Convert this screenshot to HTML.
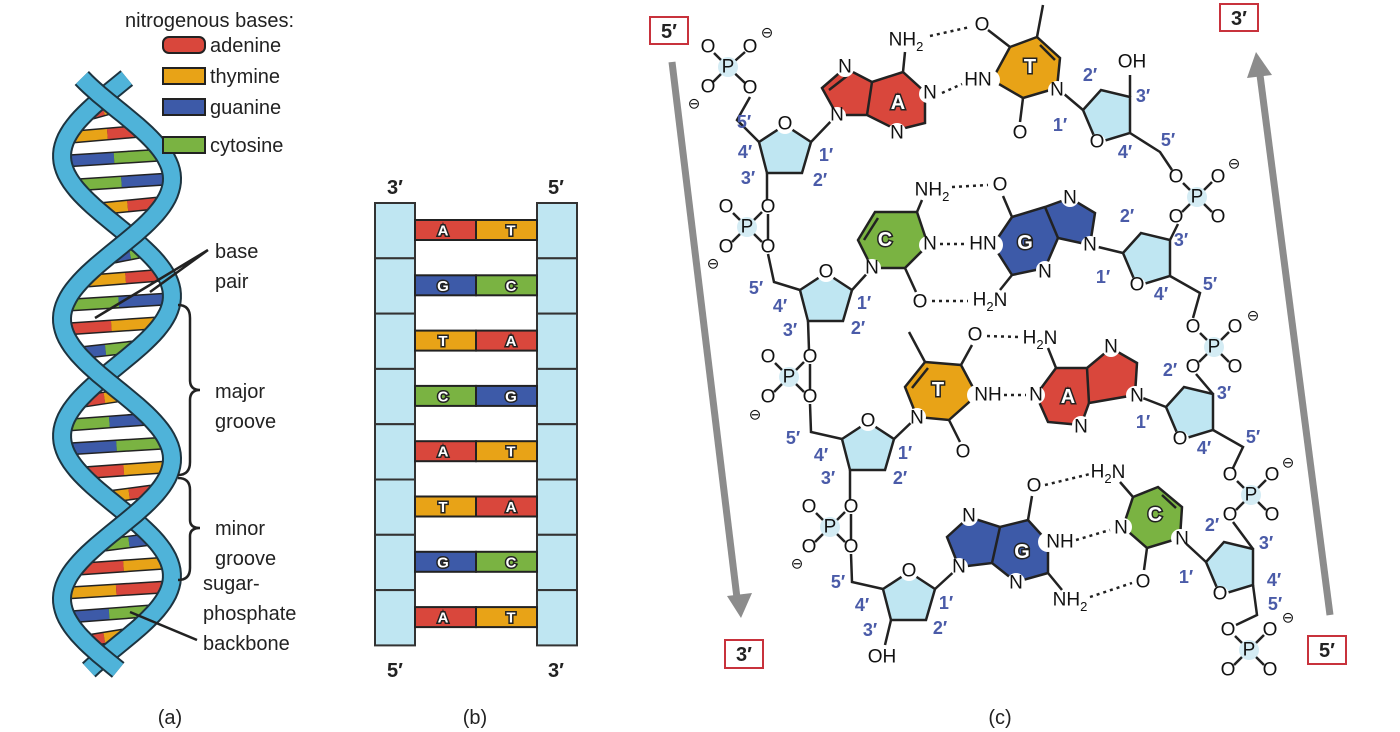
<!DOCTYPE html>
<html><head><meta charset="utf-8"><style>
html,body{margin:0;padding:0;background:#fff;}
svg{display:block;font-family:"Liberation Sans",sans-serif;}
.t{font-size:20px;fill:#222;}
.at{font-size:19px;fill:#111;text-anchor:middle;dominant-baseline:central;}
.nb{font-size:18px;fill:#4a5ba8;font-weight:bold;text-anchor:middle;dominant-baseline:central;}
.bl{font-size:20px;font-weight:bold;fill:#fff;stroke:#222;stroke-width:3px;paint-order:stroke;text-anchor:middle;dominant-baseline:central;}
.bd{stroke:#222;stroke-width:2.5;fill:none;}
.hb{stroke:#222;stroke-width:2.5;stroke-dasharray:3 4;fill:none;}
.sug{fill:#bfe6f2;stroke:#222;stroke-width:2.5;}
.w{fill:#fff;}
</style></head><body>
<svg width="1400" height="732" viewBox="0 0 1400 732" xmlns="http://www.w3.org/2000/svg">
<!-- PANEL A -->
<g id="helix"></g>
<text class="t" x="125" y="27">nitrogenous bases:</text>
<g stroke="#222" stroke-width="2">
<rect x="163" y="37" width="42" height="16" rx="6" fill="#d9473c"/>
<rect x="163" y="68" width="42" height="16" fill="#e8a317"/>
<rect x="163" y="99" width="42" height="16" fill="#3d5aa8"/>
<rect x="163" y="137" width="42" height="16" fill="#7ab342"/>
</g>
<text class="t" x="210" y="52">adenine</text>
<text class="t" x="210" y="83">thymine</text>
<text class="t" x="210" y="114">guanine</text>
<text class="t" x="210" y="152">cytosine</text>
<text class="t" x="215" y="258">base</text>
<text class="t" x="215" y="288">pair</text>
<path class="bd" d="M208 250 L150 292 M208 250 L95 318" stroke-width="2"/>
<text class="t" x="215" y="398">major</text>
<text class="t" x="215" y="428">groove</text>
<path class="bd" stroke-width="2" d="M178 305 Q190 305 190 318 L190 380 Q190 390 200 390 Q190 390 190 400 L190 462 Q190 475 178 475"/>
<text class="t" x="215" y="535">minor</text>
<text class="t" x="215" y="565">groove</text>
<path class="bd" stroke-width="2" d="M178 478 Q190 478 190 490 L190 520 Q190 528 200 528 Q190 528 190 536 L190 568 Q190 580 178 580"/>
<text class="t" x="203" y="590">sugar-</text>
<text class="t" x="203" y="620">phosphate</text>
<text class="t" x="203" y="650">backbone</text>
<path class="bd" stroke-width="2" d="M197 640 L130 612"/>
<text class="t" x="170" y="724" text-anchor="middle">(a)</text>

<!-- PANEL B -->
<g id="ladder"></g>
<text class="t" x="395" y="194" text-anchor="middle" font-weight="bold">3′</text>
<text class="t" x="556" y="194" text-anchor="middle" font-weight="bold">5′</text>
<text class="t" x="395" y="677" text-anchor="middle" font-weight="bold">5′</text>
<text class="t" x="556" y="677" text-anchor="middle" font-weight="bold">3′</text>
<text class="t" x="475" y="724" text-anchor="middle">(b)</text>

<!-- PANEL C -->
<g fill="#8c8c8c" stroke="#8c8c8c">
<line x1="672" y1="62" x2="737" y2="598" stroke-width="7"/>
<polygon points="727,596 752,593 741,618" stroke="none"/>
<line x1="1330" y1="615" x2="1260" y2="75" stroke-width="7"/>
<polygon points="1247,78 1272,75 1256,52" stroke="none"/>
</g>
<g fill="#fff" stroke="#c8323c" stroke-width="2">
<rect x="650" y="17" width="38" height="27"/><rect x="725" y="640" width="38" height="28"/>
<rect x="1220" y="4" width="38" height="27"/><rect x="1308" y="636" width="38" height="28"/>
</g>
<g class="t" font-weight="bold" text-anchor="middle">
<text x="669" y="38">5′</text><text x="744" y="661">3′</text><text x="1239" y="25">3′</text><text x="1327" y="657">5′</text>
</g>
<text class="t" x="1000" y="724" text-anchor="middle">(c)</text>

<g class="bd">
<path d="M759 142 L737 120 L750 97"/>
<path d="M767 173 L767 200 M768 214 L768 240 M768 254 L774 282 L800 290"/>
<path d="M808 321 L809 350 M810 364 L810 390 M810 404 L811 432 L842 439"/>
<path d="M850 470 L850 500 M851 514 L851 540 M851 554 L852 582 L883 589"/>
<path d="M891 620 L885 645"/>
<path d="M811 142 L835 117 M852 290 L872 268 M894 439 L917 417 M935 589 L959 567"/>
<path d="M1057 88 L1083 110 M1090 245 L1123 253 M1135 395 L1166 407 M1180 538 L1206 562"/>
<path d="M1130 97 L1130 75 M1130 133 L1160 152 L1172 170"/>
<path d="M1170 240 L1178 224 M1170 276 L1200 293 L1193 318"/>
<path d="M1213 394 L1196 374 M1213 430 L1243 447 L1233 468"/>
<path d="M1253 549 L1233 522 M1253 585 L1257 615 L1236 625"/>
</g>
<g class="sug">
<polygon points="785,125 811,142 802,173 767,173 759,142"/>
<polygon points="826,273 852,290 843,321 808,321 800,290"/>
<polygon points="868,422 894,439 885,470 850,470 842,439"/>
<polygon points="909,572 935,589 926,620 891,620 883,589"/>
<polygon points="1083,110 1101,90 1130,97 1130,133 1097,143"/>
<polygon points="1123,253 1141,233 1170,240 1170,276 1137,286"/>
<polygon points="1166,407 1184,387 1213,394 1213,430 1180,440"/>
<polygon points="1206,562 1224,542 1253,549 1253,585 1220,595"/>
</g>
<g>
<circle class="w" cx="785" cy="125" r="9"/><text class="at" x="785" y="124">O</text>
<circle class="w" cx="826" cy="273" r="9"/><text class="at" x="826" y="272">O</text>
<circle class="w" cx="868" cy="422" r="9"/><text class="at" x="868" y="421">O</text>
<circle class="w" cx="909" cy="572" r="9"/><text class="at" x="909" y="571">O</text>
<circle class="w" cx="1097" cy="143" r="9"/><text class="at" x="1097" y="142">O</text>
<circle class="w" cx="1137" cy="286" r="9"/><text class="at" x="1137" y="285">O</text>
<circle class="w" cx="1180" cy="440" r="9"/><text class="at" x="1180" y="439">O</text>
<circle class="w" cx="1220" cy="595" r="9"/><text class="at" x="1220" y="594">O</text>
<text class="at" x="1132" y="62">OH</text>
<text class="at" x="882" y="657">OH</text>
</g>

<polygon points="822,88 845,68 872,82 903,72 925,92 925,123 897,130 867,115 837,115" fill="#d9473c" stroke="#222" stroke-width="2.5"/>
<path class="bd" d="M872 82 L867 115 M903 72 L905 52 M829 90 L847 76"/>
<polygon points="1010,47 1037,37 1060,58 1057,88 1023,98 992,80" fill="#e8a317" stroke="#222" stroke-width="2.5"/>
<path class="bd" d="M1037 37 L1043 5 M1010 47 L988 30 M1023 98 L1020 122 M1040 45 L1055 60"/>
<polygon points="917,212 928,245 905,268 872,268 858,240 875,212" fill="#7ab342" stroke="#222" stroke-width="2.5"/>
<path class="bd" d="M917 212 L922 200 M905 268 L916 292 M864 240 L878 218"/>
<polygon points="1012,217 1045,207 1070,198 1095,213 1090,245 1058,238 1045,268 1012,275 993,245" fill="#3d5aa8" stroke="#222" stroke-width="2.5"/>
<path class="bd" d="M1045 207 L1058 238 M1012 217 L1003 196 M1012 275 L1000 290"/>
<polygon points="925,362 961,365 977,395 949,420 917,417 905,387" fill="#e8a317" stroke="#222" stroke-width="2.5"/>
<path class="bd" d="M925 362 L909 332 M961 365 L972 345 M949 420 L960 442 M912 388 L928 368"/>
<polygon points="1056,368 1087,368 1111,348 1137,363 1135,395 1089,403 1081,425 1048,422 1036,395" fill="#d9473c" stroke="#222" stroke-width="2.5"/>
<path class="bd" d="M1087 368 L1089 403 M1056 368 L1048 348"/>
<polygon points="947,537 969,517 1000,527 1028,520 1048,542 1048,573 1016,582 992,563 959,567" fill="#3d5aa8" stroke="#222" stroke-width="2.5"/>
<path class="bd" d="M1000 527 L992 563 M1028 520 L1032 496 M1048 573 L1062 590"/>
<polygon points="1133,497 1158,487 1182,507 1180,538 1147,548 1123,527" fill="#7ab342" stroke="#222" stroke-width="2.5"/>
<path class="bd" d="M1133 497 L1120 482 M1147 548 L1144 570 M1162 495 L1176 508"/>

<g>
<circle class="w" cx="845" cy="68" r="9"/><text class="at" x="845" y="67">N</text>
<circle class="w" cx="837" cy="116" r="9"/><text class="at" x="837" y="115">N</text>
<circle class="w" cx="928" cy="94" r="9"/><text class="at" x="930" y="93">N</text>
<circle class="w" cx="897" cy="132" r="9"/><text class="at" x="897" y="133">N</text>
<text class="at" x="906" y="40">NH<tspan font-size="13" dy="6">2</tspan></text>
<text class="bl" x="898" y="103">A</text>
<text class="at" x="982" y="25">O</text>
<circle class="w" cx="990" cy="80" r="10"/><text class="at" x="978" y="80">HN</text>
<circle class="w" cx="1057" cy="90" r="9"/><text class="at" x="1057" y="90">N</text>
<text class="at" x="1020" y="133">O</text>
<text class="bl" x="1030" y="67">T</text>
<path class="hb" d="M930 36 L970 27 M942 93 L962 84"/>

<text class="at" x="932" y="190">NH<tspan font-size="13" dy="6">2</tspan></text>
<circle class="w" cx="928" cy="245" r="9"/><text class="at" x="930" y="244">N</text>
<circle class="w" cx="872" cy="268" r="9"/><text class="at" x="872" y="268">N</text>
<text class="at" x="920" y="302">O</text>
<text class="bl" x="885" y="240">C</text>
<text class="at" x="1000" y="185">O</text>
<circle class="w" cx="993" cy="245" r="10"/><text class="at" x="983" y="244">HN</text>
<circle class="w" cx="1070" cy="198" r="9"/><text class="at" x="1070" y="198">N</text>
<circle class="w" cx="1090" cy="245" r="9"/><text class="at" x="1090" y="245">N</text>
<circle class="w" cx="1045" cy="270" r="9"/><text class="at" x="1045" y="272">N</text>
<text class="at" x="990" y="300">H<tspan font-size="13" dy="6">2</tspan><tspan dy="-6">N</tspan></text>
<text class="bl" x="1025" y="243">G</text>
<path class="hb" d="M952 187 L988 185 M940 244 L965 244 M932 301 L968 301"/>

<text class="at" x="975" y="335">O</text>
<circle class="w" cx="977" cy="395" r="10"/><text class="at" x="988" y="395">NH</text>
<circle class="w" cx="917" cy="417" r="9"/><text class="at" x="917" y="418">N</text>
<text class="at" x="963" y="452">O</text>
<text class="bl" x="938" y="390">T</text>
<text class="at" x="1040" y="338">H<tspan font-size="13" dy="6">2</tspan><tspan dy="-6">N</tspan></text>
<circle class="w" cx="1036" cy="395" r="9"/><text class="at" x="1036" y="395">N</text>
<circle class="w" cx="1111" cy="348" r="9"/><text class="at" x="1111" y="347">N</text>
<circle class="w" cx="1135" cy="395" r="9"/><text class="at" x="1137" y="396">N</text>
<circle class="w" cx="1081" cy="425" r="9"/><text class="at" x="1081" y="427">N</text>
<text class="bl" x="1068" y="397">A</text>
<path class="hb" d="M987 336 L1018 337 M1004 395 L1026 395"/>

<circle class="w" cx="969" cy="517" r="9"/><text class="at" x="969" y="516">N</text>
<circle class="w" cx="959" cy="567" r="9"/><text class="at" x="959" y="567">N</text>
<circle class="w" cx="1016" cy="582" r="9"/><text class="at" x="1016" y="583">N</text>
<circle class="w" cx="1048" cy="542" r="10"/><text class="at" x="1060" y="542">NH</text>
<text class="at" x="1034" y="486">O</text>
<text class="at" x="1070" y="600">NH<tspan font-size="13" dy="6">2</tspan></text>
<text class="bl" x="1022" y="552">G</text>
<text class="at" x="1108" y="472">H<tspan font-size="13" dy="6">2</tspan><tspan dy="-6">N</tspan></text>
<circle class="w" cx="1123" cy="527" r="9"/><text class="at" x="1121" y="528">N</text>
<circle class="w" cx="1180" cy="538" r="9"/><text class="at" x="1182" y="539">N</text>
<text class="at" x="1143" y="582">O</text>
<text class="bl" x="1155" y="515">C</text>
<path class="hb" d="M1045 485 L1090 474 M1076 540 L1110 530 M1090 597 L1132 583"/>
</g>
</svg>
<script>
(function(){
var NS="http://www.w3.org/2000/svg";
function el(p,t,a){var e=document.createElementNS(NS,t);for(var k in a)e.setAttribute(k,a[k]);p.appendChild(e);return e;}
var h=document.getElementById('helix');
function sx(y,y0){return 117+55*Math.sin(2*Math.PI*(y-y0)/280);}
var cols={A:'#d9473c',T:'#e8a317',G:'#3d5aa8',C:'#7ab342'};
var pairs=['AT','TA','GC','CG','TA','AT','GC','TA','CG','AT','GC','TA','AT','CG','GC','AT','TA','GC','CG','AT','TA','GC','AT','CG','TA','GC'];
var i=0;
for(var y=110;y<655;y+=24){
 var x1=sx(y,226),x2=sx(y,109);
 if(Math.abs(x1-x2)<18){i++;continue;}
 var p=pairs[i%pairs.length];i++;
 var a=Math.min(x1,x2)+4,b=Math.max(x1,x2)-4,m=(a+b)/2;
 el(h,'line',{x1:a,y1:y+3,x2:b,y2:y-3,stroke:'#222','stroke-width':13,'stroke-linecap':'round'});
 el(h,'line',{x1:a,y1:y+3,x2:m,y2:y,stroke:cols[p[0]],'stroke-width':10});
 el(h,'line',{x1:m,y1:y,x2:b,y2:y-3,stroke:cols[p[1]],'stroke-width':10});
}
function strand(y0){var pts=[];for(var y=78;y<=672;y+=4)pts.push(sx(y,y0).toFixed(1)+','+y);return pts.join(' ');}
[226,109].forEach(function(y0){
 el(h,'polyline',{points:strand(y0),fill:'none',stroke:'#1d3440','stroke-width':20});
 el(h,'polyline',{points:strand(y0),fill:'none',stroke:'#4fb3d9','stroke-width':16});
});
var L=document.getElementById('ladder');
for(var k=0;k<8;k++){
 var yy=203+k*55.3;
 el(L,'rect',{x:375,y:yy,width:40,height:55.3,fill:'#bfe6f2',stroke:'#333','stroke-width':2});
 el(L,'rect',{x:537,y:yy,width:40,height:55.3,fill:'#bfe6f2',stroke:'#333','stroke-width':2});
}
var lp=['AT','GC','TA','CG','AT','TA','GC','AT'];
lp.forEach(function(p,k){
 var cy=230+k*55.3;
 el(L,'rect',{x:415,y:cy-10,width:61,height:20,fill:cols[p[0]],stroke:'#222','stroke-width':2});
 el(L,'rect',{x:476,y:cy-10,width:61,height:20,fill:cols[p[1]],stroke:'#222','stroke-width':2});
 var t1=el(L,'text',{x:443,y:cy+1,'class':'bl',style:'font-size:15px'});t1.textContent=p[0];
 var t2=el(L,'text',{x:511,y:cy+1,'class':'bl',style:'font-size:15px'});t2.textContent=p[1];
});
})();
</script>
<div style="position:absolute;left:0;top:0;width:1400px;height:732px;pointer-events:none">
<svg width="1400" height="732" style="font-family:'Liberation Sans',sans-serif">
<g font-size="19" fill="#111" text-anchor="middle" dominant-baseline="central">
<g stroke="#222" stroke-width="2.5"><line x1="728" y1="67" x2="714" y2="53"/><line x1="728" y1="67" x2="745" y2="52"/><line x1="728" y1="67" x2="713" y2="82"/><line x1="728" y1="67" x2="745" y2="83"/></g>
<circle cx="728" cy="67" r="10" fill="#d4ecf4"/><text x="728" y="67">P</text>
<text x="708" y="47">O</text><text x="750" y="47">O</text><text x="708" y="87">O</text><text x="750" y="88">O</text>
<text x="767" y="33" font-size="15">⊖</text><text x="694" y="104" font-size="15">⊖</text>
<g stroke="#222" stroke-width="2.5"><line x1="747" y1="227" x2="733" y2="213"/><line x1="747" y1="227" x2="762" y2="212"/><line x1="747" y1="227" x2="732" y2="242"/><line x1="747" y1="227" x2="762" y2="242"/></g>
<circle cx="747" cy="227" r="10" fill="#d4ecf4"/><text x="747" y="227">P</text>
<text x="726" y="207">O</text><text x="768" y="207">O</text><text x="726" y="247">O</text><text x="768" y="247">O</text>
<text x="713" y="264" font-size="15">⊖</text>
<g stroke="#222" stroke-width="2.5"><line x1="789" y1="377" x2="775" y2="363"/><line x1="789" y1="377" x2="804" y2="362"/><line x1="789" y1="377" x2="774" y2="392"/><line x1="789" y1="377" x2="804" y2="392"/></g>
<circle cx="789" cy="377" r="10" fill="#d4ecf4"/><text x="789" y="377">P</text>
<text x="768" y="357">O</text><text x="810" y="357">O</text><text x="768" y="397">O</text><text x="810" y="397">O</text>
<text x="755" y="415" font-size="15">⊖</text>
<g stroke="#222" stroke-width="2.5"><line x1="830" y1="527" x2="816" y2="513"/><line x1="830" y1="527" x2="845" y2="512"/><line x1="830" y1="527" x2="815" y2="542"/><line x1="830" y1="527" x2="845" y2="542"/></g>
<circle cx="830" cy="527" r="10" fill="#d4ecf4"/><text x="830" y="527">P</text>
<text x="809" y="507">O</text><text x="851" y="507">O</text><text x="809" y="547">O</text><text x="851" y="547">O</text>
<text x="797" y="564" font-size="15">⊖</text>
<g stroke="#222" stroke-width="2.5"><line x1="1197" y1="197" x2="1183" y2="183"/><line x1="1197" y1="197" x2="1212" y2="182"/><line x1="1197" y1="197" x2="1182" y2="212"/><line x1="1197" y1="197" x2="1212" y2="212"/></g>
<circle cx="1197" cy="197" r="10" fill="#d4ecf4"/><text x="1197" y="197">P</text>
<text x="1176" y="177">O</text><text x="1218" y="177">O</text><text x="1176" y="217">O</text><text x="1218" y="217">O</text>
<text x="1234" y="164" font-size="15">⊖</text>
<g stroke="#222" stroke-width="2.5"><line x1="1214" y1="347" x2="1200" y2="333"/><line x1="1214" y1="347" x2="1229" y2="332"/><line x1="1214" y1="347" x2="1199" y2="362"/><line x1="1214" y1="347" x2="1229" y2="362"/></g>
<circle cx="1214" cy="347" r="10" fill="#d4ecf4"/><text x="1214" y="347">P</text>
<text x="1193" y="327">O</text><text x="1235" y="327">O</text><text x="1193" y="367">O</text><text x="1235" y="367">O</text>
<text x="1253" y="316" font-size="15">⊖</text>
<g stroke="#222" stroke-width="2.5"><line x1="1251" y1="495" x2="1237" y2="481"/><line x1="1251" y1="495" x2="1266" y2="480"/><line x1="1251" y1="495" x2="1236" y2="510"/><line x1="1251" y1="495" x2="1266" y2="510"/></g>
<circle cx="1251" cy="495" r="10" fill="#d4ecf4"/><text x="1251" y="495">P</text>
<text x="1230" y="475">O</text><text x="1272" y="475">O</text><text x="1230" y="515">O</text><text x="1272" y="515">O</text>
<text x="1288" y="463" font-size="15">⊖</text>
<g stroke="#222" stroke-width="2.5"><line x1="1249" y1="650" x2="1235" y2="636"/><line x1="1249" y1="650" x2="1264" y2="635"/><line x1="1249" y1="650" x2="1234" y2="665"/><line x1="1249" y1="650" x2="1264" y2="665"/></g>
<circle cx="1249" cy="650" r="10" fill="#d4ecf4"/><text x="1249" y="650">P</text>
<text x="1228" y="630">O</text><text x="1270" y="630">O</text><text x="1228" y="670">O</text><text x="1270" y="670">O</text>
<text x="1288" y="618" font-size="15">⊖</text>
</g>
<g font-size="18" font-weight="bold" fill="#4a5ba8" text-anchor="middle" dominant-baseline="central">
<text x="744" y="122">5′</text><text x="745" y="152">4′</text><text x="748" y="178">3′</text><text x="826" y="155">1′</text><text x="820" y="180">2′</text>
<text x="756" y="288">5′</text><text x="780" y="306">4′</text><text x="790" y="330">3′</text><text x="864" y="303">1′</text><text x="858" y="328">2′</text>
<text x="793" y="438">5′</text><text x="821" y="455">4′</text><text x="828" y="478">3′</text><text x="905" y="453">1′</text><text x="900" y="478">2′</text>
<text x="838" y="582">5′</text><text x="862" y="605">4′</text><text x="870" y="630">3′</text><text x="946" y="603">1′</text><text x="940" y="628">2′</text>
<text x="1060" y="125">1′</text><text x="1090" y="75">2′</text><text x="1143" y="96">3′</text><text x="1125" y="152">4′</text><text x="1168" y="140">5′</text>
<text x="1103" y="277">1′</text><text x="1127" y="216">2′</text><text x="1181" y="240">3′</text><text x="1161" y="294">4′</text><text x="1210" y="284">5′</text>
<text x="1143" y="422">1′</text><text x="1170" y="370">2′</text><text x="1224" y="393">3′</text><text x="1204" y="448">4′</text><text x="1253" y="437">5′</text>
<text x="1186" y="577">1′</text><text x="1212" y="525">2′</text><text x="1266" y="543">3′</text><text x="1274" y="580">4′</text><text x="1275" y="604">5′</text>
</g>
</svg></div>
</body></html>
